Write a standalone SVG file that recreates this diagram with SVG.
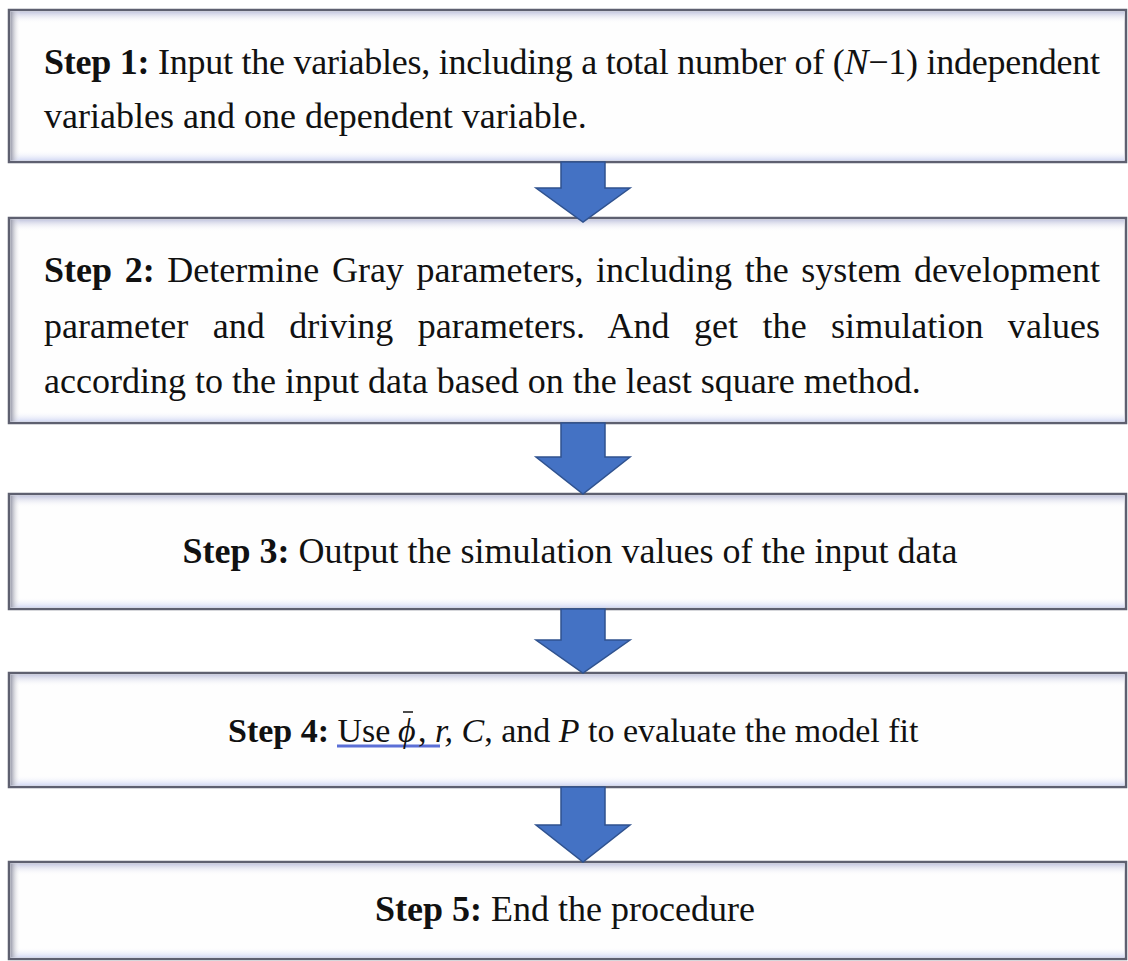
<svg xmlns="http://www.w3.org/2000/svg" width="1128" height="961" viewBox="0 0 1128 961">
<style>
.box{fill:#fefefe;stroke:#5e6070;stroke-width:2.5}
.t{font-family:"Liberation Serif","Times New Roman",serif;font-size:36px;fill:#111}
.s4{font-size:34px}
.b{font-weight:bold}
.i{font-style:italic}
.arrow{fill:#4472c4;stroke:#2f528f;stroke-width:1.5;stroke-linejoin:miter}
</style>
<defs>
<linearGradient id="gTop" x1="0" y1="0" x2="0" y2="1">
<stop offset="0" stop-color="#c3c6df"/><stop offset="1" stop-color="#ffffff" stop-opacity="0"/>
</linearGradient>
<linearGradient id="gBot" x1="0" y1="0" x2="0" y2="1">
<stop offset="0" stop-color="#ffffff" stop-opacity="0"/><stop offset="1" stop-color="#d3d9f4"/>
</linearGradient>
<linearGradient id="gLeft" x1="0" y1="0" x2="1" y2="0">
<stop offset="0" stop-color="#9698a8"/><stop offset="1" stop-color="#ffffff" stop-opacity="0"/>
</linearGradient>
</defs>

<g id="step1">
<rect class="box" x="9" y="10" width="1117" height="152"/>
<rect x="10.5" y="11.5" width="1114" height="12" fill="url(#gTop)"/>
<rect x="10.5" y="150" width="1114" height="10.5" fill="url(#gBot)"/>
<rect x="10.5" y="11.5" width="10" height="149" fill="url(#gLeft)"/>
<text class="t" x="44" y="74" textLength="1056" lengthAdjust="spacing"><tspan class="b">Step 1:</tspan> Input the variables, including a total number of (<tspan class="i">N</tspan>−1) independent</text>
<text class="t" x="44" y="128">variables and one dependent variable.</text>
</g>

<g id="step2">
<rect class="box" x="9" y="218" width="1117" height="205"/>
<rect x="10.5" y="219.5" width="1114" height="12" fill="url(#gTop)"/>
<rect x="10.5" y="411" width="1114" height="10.5" fill="url(#gBot)"/>
<rect x="10.5" y="219.5" width="10" height="202" fill="url(#gLeft)"/>
<text class="t" x="44" y="282" word-spacing="3.6" textLength="1056" lengthAdjust="spacing"><tspan class="b">Step 2:</tspan> Determine Gray parameters, including the system development</text>
<text class="t" x="44" y="338" word-spacing="15.4" textLength="1056" lengthAdjust="spacing">parameter and driving parameters. And get the simulation values</text>
<text class="t" x="44" y="393">according to the input data based on the least square method.</text>
</g>

<g id="step3">
<rect class="box" x="9" y="494" width="1117" height="115"/>
<rect x="10.5" y="495.5" width="1114" height="12" fill="url(#gTop)"/>
<rect x="10.5" y="597" width="1114" height="10.5" fill="url(#gBot)"/>
<rect x="10.5" y="495.5" width="10" height="112" fill="url(#gLeft)"/>
<text class="t" x="570" y="563" text-anchor="middle"><tspan class="b">Step 3:</tspan> Output the simulation values of the input data</text>
</g>

<g id="step4">
<rect class="box" x="9" y="673" width="1117" height="114"/>
<rect x="10.5" y="674.5" width="1114" height="12" fill="url(#gTop)"/>
<rect x="10.5" y="775" width="1114" height="10.5" fill="url(#gBot)"/>
<rect x="10.5" y="674.5" width="10" height="111" fill="url(#gLeft)"/>
<line x1="337" y1="746" x2="440" y2="746" stroke="#5b6fd6" stroke-width="3"/>
<text class="t s4" x="228" y="742"><tspan class="b">Step 4:</tspan> Use</text>
<text class="t s4 i" x="398" y="742">ϕ</text>
<line x1="403" y1="712" x2="413" y2="712" stroke="#111" stroke-width="1.5"/>
<text class="t s4" x="418" y="742">, <tspan class="i">r,</tspan> <tspan class="i">C</tspan>, and <tspan class="i">P</tspan> to evaluate the model fit</text>
</g>

<g id="step5">
<rect class="box" x="9" y="862" width="1117" height="97"/>
<rect x="10.5" y="863.5" width="1114" height="12" fill="url(#gTop)"/>
<rect x="10.5" y="947" width="1114" height="10.5" fill="url(#gBot)"/>
<rect x="10.5" y="863.5" width="10" height="94" fill="url(#gLeft)"/>
<text class="t" x="565" y="921" text-anchor="middle"><tspan class="b">Step 5:</tspan> End the procedure</text>
</g>

<g id="connectors">
<path class="arrow" d="M561,162 L605,162 L605,188 L630,188 L583,222 L536,188 L561,188 Z"/>
<path class="arrow" d="M561,423 L605,423 L605,457 L630,457 L583,494 L536,457 L561,457 Z"/>
<path class="arrow" d="M561,609 L605,609 L605,640 L630,640 L583,673 L536,640 L561,640 Z"/>
<path class="arrow" d="M561,787 L605,787 L605,825 L630,825 L583,862 L536,825 L561,825 Z"/>
</g>
</svg>
